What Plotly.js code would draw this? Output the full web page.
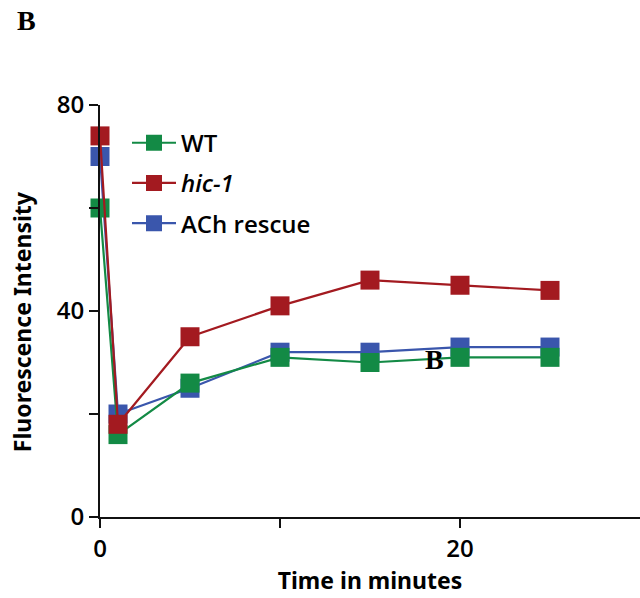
<!DOCTYPE html>
<html>
<head>
<meta charset="utf-8">
<script src="https://cdn.plot.ly/plotly-3.0.1.min.js"></script>
<style>html,body{margin:0;padding:0;background:#fff;}#chart{width:640px;height:598px;}</style>
</head>
<body>
<div id="chart"></div>
<script>
var timeMinutes = [0, 1, 5, 10, 15, 20, 25];
var wtValues = [60, 16, 26, 31, 30, 31, 31];
var hic1Values = [74, 18, 35, 41, 46, 45, 44];
var achRescueValues = [70, 20, 25, 32, 32, 33, 33];
var xTickVals = [0, 10, 20];
var xTickText = ['0', '', '20'];
var yTickVals = [0, 20, 40, 60, 80];
var yTickText = ['0', '', '40', '', '80'];

var green = '#138a45', red = '#a31a20', blue = '#3a56ac';
function tr(name, y, color, rank) {
  return {
    x: timeMinutes, y: y, name: name, type: 'scatter', mode: 'lines+markers',
    line: {color: color, width: 2.2},
    marker: {symbol: 'square', size: 19, color: color},
    cliponaxis: false, legendrank: rank, legendgroup: name
  };
}
var data = [
  tr('ACh rescue', achRescueValues, blue, 3),
  tr('WT', wtValues, green, 1),
  tr('<i>hic-1</i>', hic1Values, red, 2)
];
var axisFont = {family: 'Open Sans, sans-serif', size: 24, color: '#000', weight: 600};
var layout = {
  width: 640, height: 598,
  margin: {l: 100, r: 0, t: 105, b: 81},
  paper_bgcolor: '#fff', plot_bgcolor: '#fff',
  showlegend: true,
  legend: {x: 0.05, y: 0.962, xanchor: 'left', yanchor: 'top',
    font: {family: 'Open Sans, sans-serif', size: 24, color: '#000', weight: 600},
    traceorder: 'grouped', tracegroupgap: 6, itemwidth: 44, bgcolor: 'rgba(0,0,0,0)'},
  xaxis: {range: [0, 30], tickvals: xTickVals, ticktext: xTickText,
    showline: true, linecolor: '#111', linewidth: 2, ticks: 'outside', ticklen: 9, tickwidth: 2, tickcolor: '#111',
    showgrid: false, zeroline: false, tickfont: axisFont,
    title: {text: '<b>Time in minutes</b>', font: {family: 'Noto Sans, sans-serif', size: 23, color: '#000'}, standoff: 5}},
  yaxis: {range: [0, 80], tickvals: yTickVals, ticktext: yTickText,
    showline: true, linecolor: '#111', linewidth: 2, ticks: 'outside', ticklen: 9, tickwidth: 2, tickcolor: '#111',
    showgrid: false, zeroline: false, tickfont: axisFont},
  annotations: [
    {text: '<b>Fluorescence Intensity</b>', xref: 'paper', yref: 'paper', x: -0.1444, y: 0.473, textangle: -90,
     xanchor: 'center', yanchor: 'middle', showarrow: false,
     font: {family: 'Noto Sans, sans-serif', size: 23, color: '#000'}},
    {text: '<b>B</b>', xref: 'paper', yref: 'paper', x: -0.158, y: 1.205, xanchor: 'left', yanchor: 'middle', showarrow: false,
     font: {family: 'Liberation Serif, serif', size: 28, color: '#000'}},
    {text: '<b>B</b>', xref: 'x', yref: 'y', x: 18.6, y: 30.6, showarrow: false,
     font: {family: 'Liberation Serif, serif', size: 28, color: '#000'}}
  ]
};
Plotly.newPlot('chart', data, layout, {displayModeBar: false, staticPlot: true});
</script>
</body>
</html>
